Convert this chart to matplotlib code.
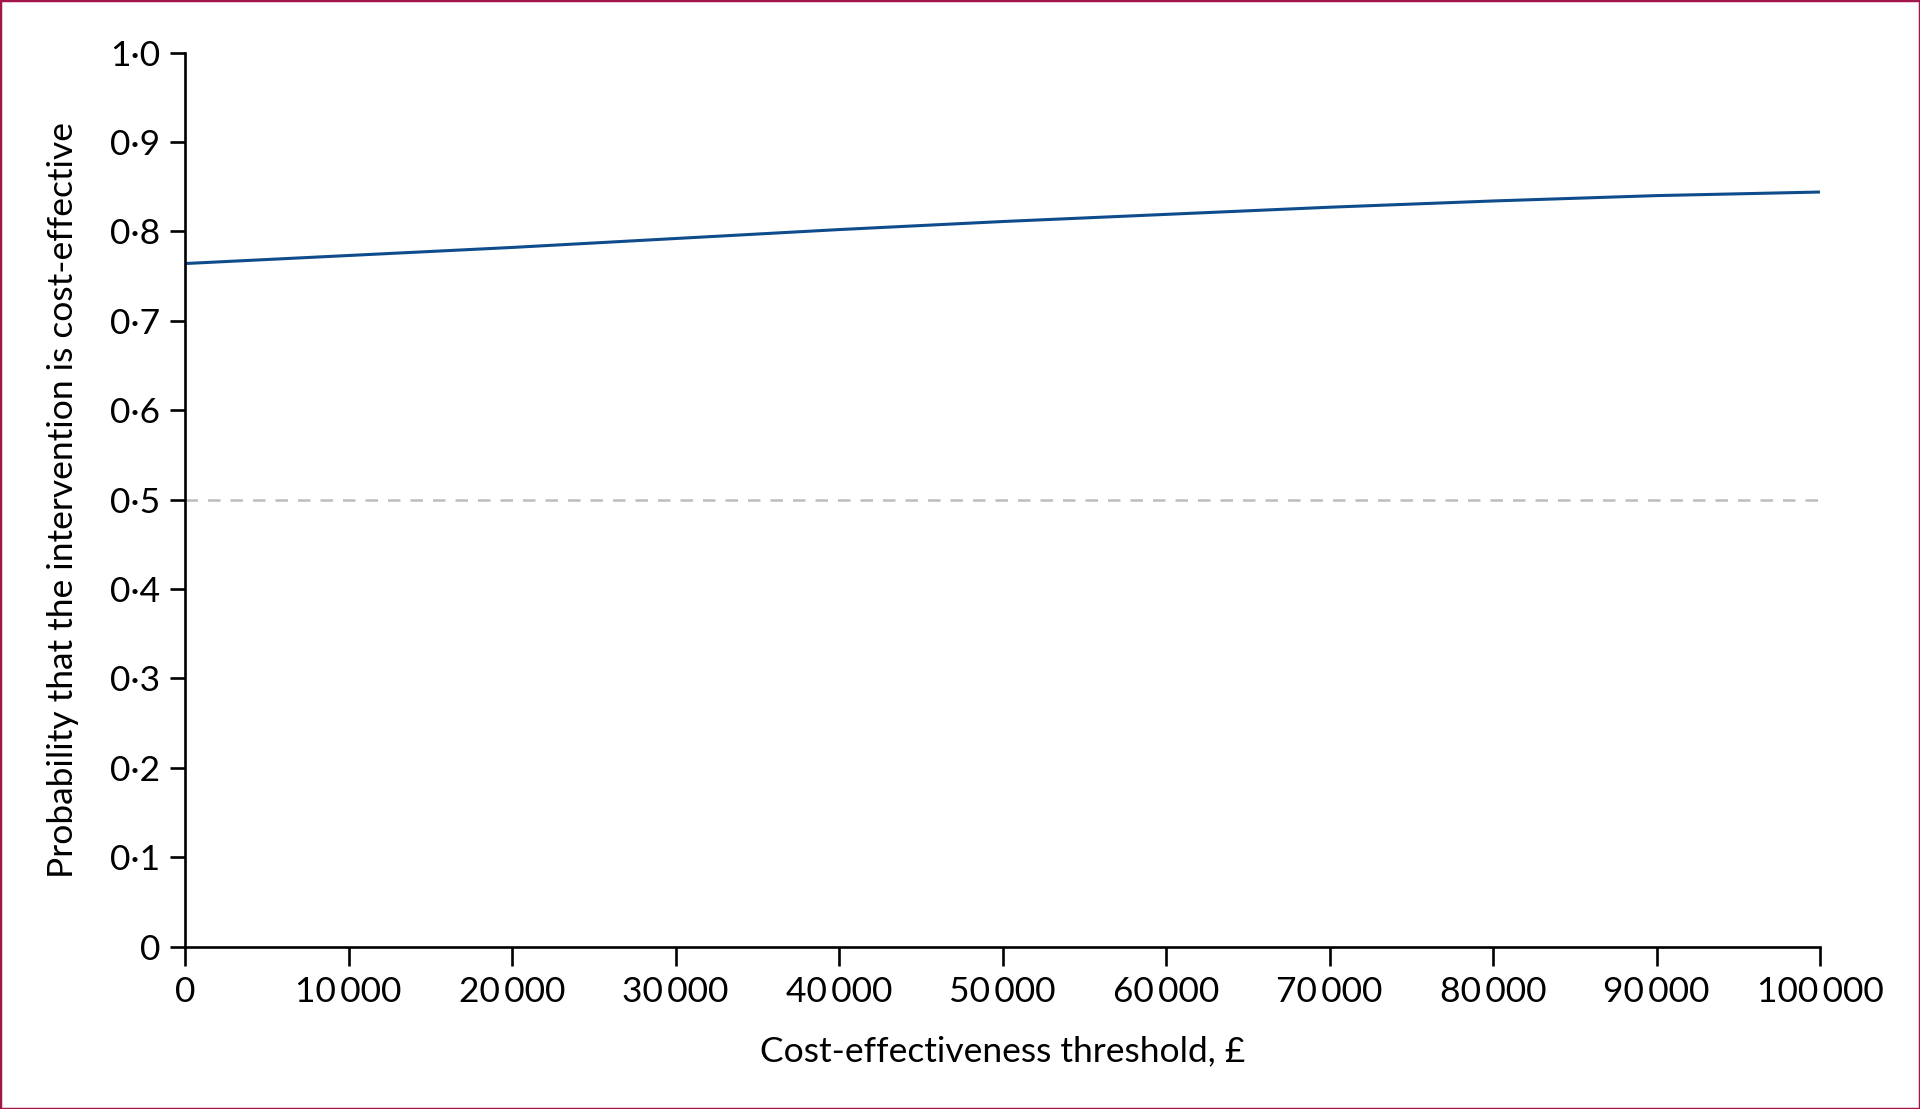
import numpy as np
import matplotlib
matplotlib.use("Agg")
import matplotlib.pyplot as plt
from matplotlib.patches import Rectangle

# acceptability curve
threshold = [0, 10000, 20000, 30000, 40000, 50000, 60000, 70000, 80000, 90000, 100000]
prob_ce = [0.764, 0.773, 0.782, 0.792, 0.802, 0.811, 0.819, 0.827, 0.834, 0.840, 0.844]

x_ticks = [0, 10000, 20000, 30000, 40000, 50000, 60000, 70000, 80000, 90000, 100000]
x_labels = ["0", "10\u2009000", "20\u2009000", "30\u2009000", "40\u2009000", "50\u2009000",
            "60\u2009000", "70\u2009000", "80\u2009000", "90\u2009000", "100\u2009000"]
y_ticks = [0, 0.1, 0.2, 0.3, 0.4, 0.5, 0.6, 0.7, 0.8, 0.9, 1.0]
y_labels = ["0", "0·1", "0·2", "0·3", "0·4", "0·5", "0·6", "0·7", "0·8", "0·9", "1·0"]
ref_prob = 0.5

plt.rcParams['font.family'] = ['Lato', 'DejaVu Sans']
fs = 25.5

fig = plt.figure(figsize=(19.2, 11.09), dpi=100)
ax = fig.add_axes([0.0964, 0.1465, 0.948 - 0.0964, 0.9526 - 0.1465])

ax.plot([0, 100000], [ref_prob, ref_prob], color='#bdbdbd', lw=1.8,
        linestyle=(0, (5, 4)), zorder=1)
ax.plot(threshold, prob_ce, color='#0e4c8c', lw=2.2, zorder=2)

ax.set_xlim(0, 100000)
ax.set_ylim(0, 1.0)
ax.set_xticks(x_ticks)
ax.set_xticklabels(x_labels)
ax.set_yticks(y_ticks)
ax.set_yticklabels(y_labels)

for s in ['top', 'right']:
    ax.spines[s].set_visible(False)
for s in ['left', 'bottom']:
    ax.spines[s].set_linewidth(1.9)
    ax.spines[s].set_color('black')
    ax.spines[s].set_capstyle('projecting')

ax.tick_params(axis='x', direction='out', length=14, width=1.9, pad=7, labelsize=fs)
ax.tick_params(axis='y', direction='out', length=11, width=1.9, pad=7, labelsize=fs)

ax.set_xlabel("Cost-effectiveness threshold, £", fontsize=fs, labelpad=20)
ax.set_ylabel("Probability that the intervention is cost-effective", fontsize=fs, labelpad=22)

fig.patches.append(Rectangle((0, 0), 1, 1, transform=fig.transFigure, fill=False,
                             edgecolor='#a3164c', lw=2.5))

fig.savefig("out.png", dpi=100, facecolor='white')
